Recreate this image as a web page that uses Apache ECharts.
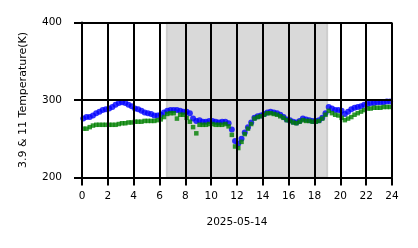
<!DOCTYPE html>
<html>
<head>
<meta charset="utf-8">
<script src="https://cdn.jsdelivr.net/npm/echarts@6/dist/echarts.min.js"></script>
<style>
html,body{margin:0;padding:0;background:#fff;}
#chart{width:418px;height:248px;}
</style>
</head>
<body>
<div id="chart"></div>
<script>
// Time of first sample (hours) and sampling step (hours)
const startHour = 0.1;
const stepHour = 0.25;
const dateLabel = '2025-05-14';
const yAxisTitle = '3.9 & 11 Temperature(K)';
const xTicks = [0, 2, 4, 6, 8, 10, 12, 14, 16, 18, 20, 22, 24];
const yTicks = [200, 300, 400];
const shadeSpan = [6.55, 19.0];

// 11 µm brightness temperature (blue)
const blueValues = [
  276, 278, 278, 280, 283, 285, 287, 288, 289, 291, 294, 296,
  297, 296, 294, 292, 289, 288, 286, 284, 283, 282, 280, 280,
  281, 284, 286, 287, 287, 287, 286, 285, 285, 283, 276, 273,
  274, 272, 272, 273, 273, 272, 271, 272, 272, 270, 262, 247,
  244, 250, 258, 265, 271, 277, 279, 280, 282, 284, 285, 284,
  283, 281, 278, 275, 274, 272, 271, 273, 276, 275, 274, 273,
  273, 274, 277, 283, 291, 289, 287, 287, 286, 282, 285, 288,
  290, 291, 292, 294, 295, 296, 296, 297, 297, 297, 298, 298
];
// 3.9 µm brightness temperature (green)
const greenValues = [
  263, 263, 265, 267, 268, 268, 268, 268, 268, 268, 268, 269,
  270, 270, 271, 271, 272, 272, 272, 273, 273, 273, 273, 274,
  275, 278, 282, 283, 283, 276, 281, 281, 277, 272, 265, 257,
  268, 268, 268, 269, 269, 268, 268, 268, 269, 266, 255, 240,
  238, 246, 256, 263, 269, 276, 278, 279, 281, 283, 283, 282,
  281, 279, 277, 274, 273, 271, 270, 272, 274, 273, 273, 272,
  272, 273, 276, 281, 286, 283, 281, 280, 277, 274, 276, 278,
  281, 283, 285, 287, 289, 289, 290, 290, 290, 291, 291, 291
];

const toPairs = vals => vals.map((v, i) => [+(startHour + i * stepHour).toFixed(3), v]);

const font = 'DejaVu Sans';
const black = '#000';
const chart = echarts.init(document.getElementById('chart'), null, {renderer: 'canvas'});
chart.setOption({
  animation: false,
  backgroundColor: '#fff',
  grid: {left: 82, right: 26, top: 22.5, bottom: 70.5, containLabel: false},
  xAxis: {
    type: 'value', min: xTicks[0], max: xTicks[xTicks.length - 1], interval: 2, z: 5,
    name: dateLabel, nameLocation: 'middle', nameGap: 39,
    nameTextStyle: {color: black, fontSize: 10.5, fontFamily: font},
    axisLine: {show: true, onZero: false, lineStyle: {color: black, width: 2}},
    axisTick: {show: true, length: 8, lineStyle: {color: black, width: 2}},
    splitLine: {show: true, lineStyle: {color: black, width: 2}},
    axisLabel: {color: black, fontSize: 10.5, fontFamily: font, margin: 13}
  },
  yAxis: {
    type: 'value', min: yTicks[0], max: yTicks[yTicks.length - 1], interval: 100, z: 5,
    name: yAxisTitle, nameLocation: 'middle', nameGap: 53, nameRotate: 90,
    nameTextStyle: {color: black, fontSize: 11, fontFamily: font},
    axisLine: {show: true, lineStyle: {color: black, width: 2}},
    axisTick: {show: true, length: 8, lineStyle: {color: black, width: 2}},
    splitLine: {show: true, lineStyle: {color: black, width: 2}},
    axisLabel: {color: black, fontSize: 10.5, fontFamily: font, margin: 20}
  },
  series: [
    {
      type: 'scatter', z: 1, data: [], silent: true,
      markArea: {
        silent: true,
        itemStyle: {color: 'rgba(128,128,128,0.3)', borderColor: 'rgba(128,128,128,0.3)', borderWidth: 1.5},
        data: [[{xAxis: shadeSpan[0]}, {xAxis: shadeSpan[1]}]]
      }
    },
    {
      type: 'scatter', z: 2, data: toPairs(blueValues), symbol: 'circle', symbolSize: 6,
      itemStyle: {color: '#0000ff'}
    },
    {
      type: 'scatter', z: 3, data: toPairs(greenValues), symbol: 'rect', symbolSize: 4.5,
      itemStyle: {color: '#008000'}
    }
  ]
});
</script>
</body>
</html>
